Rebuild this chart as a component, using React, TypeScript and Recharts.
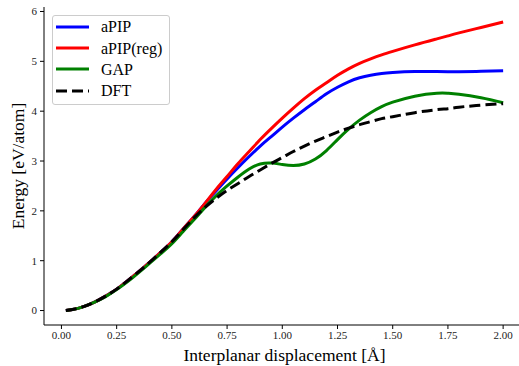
import React from "react";
import { LineChart, Line, XAxis, YAxis, Legend } from "recharts";

const xValues = [0.02, 0.05, 0.1, 0.15, 0.2, 0.25, 0.3, 0.35, 0.4, 0.45, 0.5, 0.55, 0.6, 0.65, 0.7, 0.75, 0.8, 0.85, 0.9, 0.95, 1.0, 1.05, 1.1, 1.15, 1.2, 1.25, 1.3, 1.35, 1.4, 1.45, 1.5, 1.6, 1.7, 1.75, 1.8, 1.9, 2.0];

const apip = [0, 0.02, 0.08, 0.17, 0.29, 0.43, 0.6, 0.78, 0.97, 1.17, 1.38, 1.63, 1.88, 2.15, 2.4, 2.64, 2.87, 3.09, 3.3, 3.49, 3.68, 3.86, 4.03, 4.19, 4.35, 4.48, 4.59, 4.67, 4.72, 4.755, 4.775, 4.795, 4.795, 4.79, 4.79, 4.8, 4.81];
const apipReg = [0, 0.02, 0.08, 0.17, 0.29, 0.43, 0.6, 0.78, 0.97, 1.17, 1.38, 1.63, 1.88, 2.15, 2.43, 2.69, 2.95, 3.19, 3.43, 3.65, 3.86, 4.06, 4.25, 4.42, 4.57, 4.72, 4.85, 4.96, 5.05, 5.13, 5.2, 5.33, 5.45, 5.51, 5.57, 5.68, 5.79];
const gap = [0, 0.02, 0.08, 0.17, 0.28, 0.42, 0.58, 0.76, 0.95, 1.14, 1.34, 1.58, 1.82, 2.07, 2.3, 2.5, 2.68, 2.84, 2.94, 2.96, 2.93, 2.91, 2.94, 3.04, 3.21, 3.43, 3.64, 3.82, 3.97, 4.09, 4.18, 4.3, 4.36, 4.36, 4.34, 4.27, 4.17];
const dft = [0, 0.02, 0.08, 0.17, 0.29, 0.43, 0.6, 0.78, 0.97, 1.17, 1.38, 1.62, 1.86, 2.07, 2.25, 2.41, 2.55, 2.69, 2.82, 2.95, 3.07, 3.19, 3.3, 3.4, 3.49, 3.58, 3.66, 3.73, 3.79, 3.85, 3.89, 3.97, 4.03, 4.05, 4.08, 4.12, 4.15];

const xTicks = [0, 0.25, 0.5, 0.75, 1.0, 1.25, 1.5, 1.75, 2.0];
const yTicks = [0, 1, 2, 3, 4, 5, 6];

const seriesNames = ["aPIP", "aPIP(reg)", "GAP", "DFT"];
const seriesColors = ["#0000ff", "#ff0000", "#008000", "#000000"];
const seriesKeys = ["apip", "apipReg", "gap", "dft"];

const data = xValues.map((x, i) => ({
  x,
  apip: apip[i],
  apipReg: apipReg[i],
  gap: gap[i],
  dft: dft[i],
}));

const FONT = "'Liberation Serif', 'Times New Roman', serif";

const LegendBox = () => (
  <div
    style={{
      width: 116,
      height: 86,
      paddingBottom: 2,
      border: "1px solid #cccccc",
      borderRadius: 3,
      background: "rgba(255,255,255,0.8)",
      fontFamily: FONT,
      fontSize: 16,
      color: "#000",
      boxSizing: "content-box",
    }}
  >
    {seriesNames.map((name, i) => (
      <div
        key={name}
        style={{ height: 21.4, display: "flex", alignItems: "center" }}
      >
        <svg width={48} height={6} style={{ display: "block" }}>
          <line
            x1={3}
            x2={36}
            y1={3}
            y2={3}
            stroke={seriesColors[i]}
            strokeWidth={3}
            strokeDasharray={i === 3 ? "11 5" : undefined}
          />
        </svg>
        <span style={{ lineHeight: "21px" }}>{name}</span>
      </div>
    ))}
  </div>
);

const YLabel = () => {
  const cx = 18;
  const cy = 7 + 318 / 2;
  return (
    <text
      x={cx}
      y={cy}
      transform={`rotate(-90, ${cx}, ${cy})`}
      textAnchor="middle"
      dominantBaseline="central"
      fontFamily={FONT}
      fontSize={17.5}
      fill="#000"
    >
      Energy [eV/atom]
    </text>
  );
};

export default function App() {
  return (
    <div
      style={{
        position: "absolute",
        left: 0,
        top: 0,
        width: 519,
        height: 366,
        overflow: "hidden",
        background: "#fff",
      }}
    >
      <LineChart
        width={530}
        height={366}
        data={data}
        margin={{ top: 7, right: 5, bottom: 0, left: 0 }}
      >
        <XAxis
          dataKey="x"
          type="number"
          domain={[-0.079, 2.099]}
          allowDataOverflow
          ticks={xTicks}
          tickFormatter={(v: number) => v.toFixed(2)}
          height={41}
          tickSize={4}
          tickMargin={2}
          axisLine={{ stroke: "#000", strokeWidth: 1 }}
          tickLine={{ stroke: "#000", strokeWidth: 1 }}
          tick={{ fontFamily: FONT, fontSize: 11, fill: "#222" }}
          interval={0}
          label={{
            value: "Interplanar displacement [Å]",
            position: "insideBottom",
            offset: 5,
            style: { fontFamily: FONT, fontSize: 17.5, fill: "#000" },
          }}
        />
        <XAxis
          xAxisId="top"
          dataKey="x"
          type="number"
          domain={[-0.079, 2.099]}
          orientation="top"
          height={0}
          tick={false}
          tickLine={false}
          axisLine={{ stroke: "#000", strokeWidth: 1 }}
        />
        <YAxis
          type="number"
          domain={[-0.29, 6.09]}
          allowDataOverflow
          ticks={yTicks}
          width={44}
          tickSize={4}
          tickMargin={3}
          axisLine={{ stroke: "#000", strokeWidth: 1 }}
          tickLine={{ stroke: "#000", strokeWidth: 1 }}
          tick={{ fontFamily: FONT, fontSize: 11, fill: "#222" }}
          interval={0}
          label={<YLabel />}
        />
        <YAxis
          yAxisId="right"
          orientation="right"
          width={0}
          domain={[-0.29, 6.09]}
          tick={false}
          tickLine={false}
          axisLine={{ stroke: "#000", strokeWidth: 1 }}
        />
        <Legend
          layout="vertical"
          align="center"
          verticalAlign="middle"
          content={() => <LegendBox />}
          wrapperStyle={{ position: "absolute", left: 52, top: 15, width: 118, height: 90 }}
        />
        {seriesKeys.map((k, i) => (
          <Line
            key={k}
            type="natural"
            dataKey={k}
            name={seriesNames[i]}
            stroke={seriesColors[i]}
            strokeWidth={3}
            strokeDasharray={i === 3 ? "11 5" : undefined}
            dot={false}
            activeDot={false}
            isAnimationActive={false}
          />
        ))}
      </LineChart>
    </div>
  );
}
